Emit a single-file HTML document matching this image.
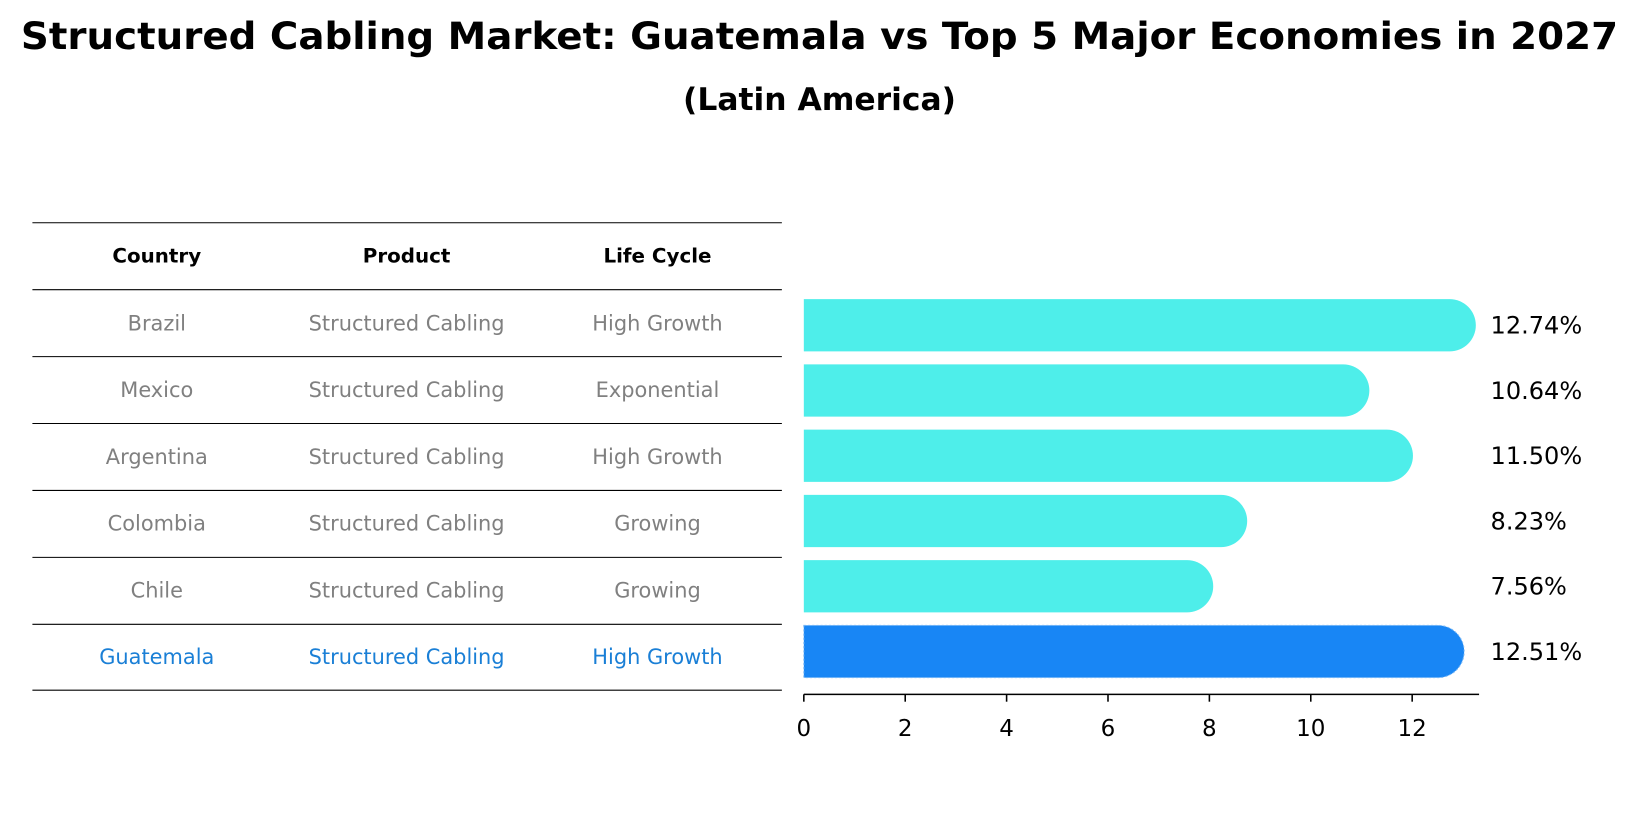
<!DOCTYPE html>
<html><head><meta charset="utf-8"><style>
body{margin:0;background:#fff;font-family:"Liberation Sans","DejaVu Sans",sans-serif}
svg text{font-family:"DejaVu Sans","Liberation Sans",sans-serif}
</style></head><body>
<svg id="c" width="1639" height="823" viewBox="0 0 1568 787" preserveAspectRatio="none" xmlns="http://www.w3.org/2000/svg">
<text x="784" y="47" text-anchor="middle" font-size="36" font-weight="bold" textLength="1528" lengthAdjust="spacingAndGlyphs">Structured Cabling Market: Guatemala vs Top 5 Major Economies in 2027</text>
<text x="784" y="105" text-anchor="middle" font-size="30" font-weight="bold">(Latin America)</text>
<g id="table"></g>
<g id="bars"></g>
<g id="axis"></g>
</svg>
<script>
const countries=["Brazil","Mexico","Argentina","Colombia","Chile","Guatemala"];
const products=["Structured Cabling","Structured Cabling","Structured Cabling","Structured Cabling","Structured Cabling","Structured Cabling"];
const lifeCycles=["High Growth","Exponential","High Growth","Growing","Growing","High Growth"];
const values=[12.74,10.64,11.50,8.23,7.56,12.51];
const valueLabels=["12.74%","10.64%","11.50%","8.23%","7.56%","12.51%"];
const ticks=[0,2,4,6,8,10,12];
const NS="http://www.w3.org/2000/svg";
const x0=769, ppu=48.5;
const xs=v=>x0+v*ppu;
const rowY=i=>311+i*62.4;
function mk(tag,attrs,parent,txt){const e=document.createElementNS(NS,tag);for(const k in attrs)e.setAttribute(k,attrs[k]);if(txt!==undefined)e.textContent=txt;parent.appendChild(e);return e;}
const tbl=document.getElementById('table'),bars=document.getElementById('bars'),ax=document.getElementById('axis');
const colX=[150,389,629];
const heads=["Country","Product","Life Cycle"];
heads.forEach((h,j)=>{const t=mk('text',{x:colX[j],y:251,'text-anchor':'middle','font-size':19,'font-weight':'bold'},tbl,h);

});
const lineYs=[213,277,341,405,469,533,597,660];
lineYs.forEach(y=>{const l=mk('line',{x1:31,x2:748,y1:y,y2:y,stroke:'#000','stroke-width':1},tbl);

});
countries.forEach((c,i)=>{
  const last=i===countries.length-1;
  const col=last?'#1a7fd6':'#808080';
  const y=309+i*63.8+7;
  [c,products[i],lifeCycles[i]].forEach((s,j)=>{const t=mk('text',{x:colX[j],y:y,'text-anchor':'middle','font-size':20,fill:col},tbl,s);
  
  });
  const cy=rowY(i), h=50, r=25, xe=xs(values[i]);
  const fill=last?'#1886f5':'#4eeeea';
  const p=mk('path',{d:`M${x0},${cy-h/2} H${xe} A${r},${r} 0 0 1 ${xe},${cy+h/2} H${x0} Z`,fill:fill,stroke:last?'#7ab8f5':'none','stroke-dasharray':last?'2,2':'none'},bars);
  
  
  const t=mk('text',{x:1426,y:cy+8,'font-size':23},bars,valueLabels[i]);
  
  
});
const al=mk('line',{x1:x0,x2:1415,y1:664,y2:664,stroke:'#000','stroke-width':1.5},ax);


ticks.forEach(v=>{const l=mk('line',{x1:xs(v),x2:xs(v),y1:664,y2:671,stroke:'#000','stroke-width':1.5},ax);


const t=mk('text',{x:xs(v),y:704,'text-anchor':'middle','font-size':22},ax,String(v));

});
</script>
</body></html>
